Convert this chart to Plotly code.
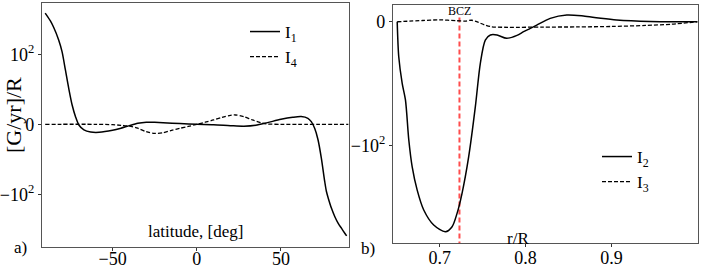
import numpy as np
import plotly.graph_objects as go

# ---------------- data ----------------
lat = [-90, -87, -85, -82, -80, -78, -76, -74, -72, -70, -67, -63, -58, -50, -45, -40,
       -35, -30, -25, -20, -10, 0, 10, 20, 28, 35, 42, 50, 57, 62, 66, 68, 70, 72, 74,
       76, 77, 78, 80, 82, 84, 86, 88, 89]
I1 = [450, 341, 268, 169, 110, 77.6, 51, 27.6, 10.9, -1, -8, -11, -11.4, -8.6, -5.6, -1.9,
      1.4, 2.9, 2.9, 2.4, 1, 0, -0.5, -1.9, -2.7, -1.4, 2.4, 7.1, 10, 11, 8.6, 3.8, -5.7,
      -22, -48.6, -82, -96, -113, -167, -227, -290, -348, -418, -456]

lat4 = [-90, -60, -50, -45, -40, -35, -30, -25, -20, -15, -10, -5, 0, 5, 10, 15, 20, 23,
        28, 33, 38, 42, 50, 60, 90]
I4 = [0, 0, -0.5, -1.5, -2.5, -5.6, -10.5, -12.9, -12, -8.6, -5.7, -3, 0, 3, 6.2, 10,
      12.9, 13.3, 11, 6.2, 2.4, 0.5, 0, 0, 0]

r2 = [0.6505, 0.6523, 0.6563, 0.6601, 0.6640, 0.6679, 0.6737, 0.6814, 0.6930, 0.7066,
      0.7144, 0.7202, 0.7260, 0.7337, 0.7415, 0.7473, 0.7531, 0.7590, 0.7667, 0.778,
      0.790, 0.7977, 0.805, 0.813, 0.8287, 0.848, 0.8674, 0.885, 0.906, 0.945, 1.0]
I2 = [0, -28.2, -49.7, -63.1, -95.4, -154, -249, -377, -514, -590, -532, -404, -267,
      -126, -68.5, -33.5, -14.8, -10.7, -10.7, -13.4, -11, -8, -5.5, -2.7, 2.7, 5.4, 4.6,
      3, 1.4, 0.2, 0]

r3 = [0.6505, 0.68, 0.70, 0.72, 0.73, 0.737, 0.745, 0.752, 0.76, 0.78, 0.82, 0.86, 0.90,
      0.94, 0.97, 1.0]
I3 = [0, 1, 1.5, 0.8, 0.5, 1.2, -0.5, -2.5, -4, -4.5, -4.3, -4.2, -3.8, -3, -2, 0]

bcz_r = 0.723
bcz_y = [-800, 4]

ytick_vals = [-100, 0, 100]
ytick_text = ["\u221210<sup>2</sup>", "0", "10<sup>2</sup>"]
xa_ticks = [-50, 0, 50]
xa_text = ["\u221250", "0", "50"]
xb_ticks = [0.7, 0.8, 0.9]
xb_text = ["0.7", "0.8", "0.9"]

# symlog transform (matplotlib style, linthresh=100, linscale=1)
LIN = 100.0
ADJ = 1.0 / (1.0 - 0.1)


def symlog(v):
    v = np.asarray(v, dtype=float)
    a = np.abs(v)
    out = np.where(a <= LIN, v * ADJ,
                   np.sign(v) * LIN * (ADJ + np.log10(np.maximum(a, 1e-12) / LIN)))
    return out


FONT = "Liberation Serif"
W, H = 706, 268

fig = go.Figure()
line_solid = dict(color="black", width=1.5, shape="spline", smoothing=0.8)
line_dash = dict(color="black", width=1.3, dash="4px,2px", shape="spline", smoothing=0.8)

fig.add_trace(go.Scatter(x=lat, y=symlog(I1), mode="lines", name="I<sub>1</sub>",
                         line=line_solid, xaxis="x", yaxis="y", legend="legend"))
fig.add_trace(go.Scatter(x=lat4, y=symlog(I4), mode="lines", name="I<sub>4</sub>",
                         line=line_dash, xaxis="x", yaxis="y", legend="legend"))
fig.add_trace(go.Scatter(x=[bcz_r, bcz_r], y=symlog(bcz_y), mode="lines", showlegend=False,
                         line=dict(color="#ff4d4d", width=2, dash="5px,3px"),
                         xaxis="x2", yaxis="y2"))
fig.add_trace(go.Scatter(x=r2, y=symlog(I2), mode="lines", name="I<sub>2</sub>",
                         line=line_solid, xaxis="x2", yaxis="y2", legend="legend2"))
fig.add_trace(go.Scatter(x=r3, y=symlog(I3), mode="lines", name="I<sub>3</sub>",
                         line=line_dash, xaxis="x2", yaxis="y2", legend="legend2"))

TF = dict(family=FONT, size=18, color="black")
axcommon = dict(showgrid=False, zeroline=False, showline=True, mirror=True,
                linecolor="#555", linewidth=1.2, ticks="outside", ticklen=3,
                tickcolor="#333", tickfont=TF, automargin=False)
# tick-label-only axes, lifted a few px so the labels sit as in the reference
labelaxis = dict(showgrid=False, zeroline=False, showline=False, ticks="",
                 tickfont=TF, automargin=False, anchor="free", side="bottom")

XA_DOM = [42 / W, 349 / W]
XB_DOM = [393 / W, 698 / W]
XA_RANGE = [-91.9, 90.4]
XB_RANGE = [0.6456, 1.0008]

fig.update_layout(
    width=W, height=H, autosize=False,
    margin=dict(l=0, r=0, t=0, b=0),
    paper_bgcolor="white", plot_bgcolor="white",
    xaxis=dict(domain=XA_DOM, range=XA_RANGE, tickvals=xa_ticks, showticklabels=False,
               anchor="y", **axcommon),
    yaxis=dict(domain=[1 - 247 / H, 1 - 3 / H], range=[-194.7, 192.5],
               tickvals=list(symlog(ytick_vals)), ticktext=ytick_text, anchor="x",
               **axcommon),
    xaxis2=dict(domain=XB_DOM, range=XB_RANGE, tickvals=xb_ticks, showticklabels=False,
                anchor="y2", **axcommon),
    yaxis2=dict(domain=[1 - 243 / H, 1 - 5 / H], range=[-198.3, 15.0],
                tickvals=list(symlog(ytick_vals[:2])), ticktext=ytick_text[:2],
                anchor="x2", **axcommon),
    xaxis3=dict(domain=XA_DOM, range=XA_RANGE, tickvals=xa_ticks, ticktext=xa_text,
                overlaying="x", position=(H - 246) / H, **labelaxis),
    xaxis4=dict(domain=XB_DOM, range=XB_RANGE, tickvals=xb_ticks, ticktext=xb_text,
                overlaying="x2", position=(H - 245) / H, **labelaxis),
    legend=dict(x=245 / W, y=1 - 14 / H, xanchor="left", yanchor="top",
                bgcolor="rgba(0,0,0,0)", font=dict(family=FONT, size=17, color="black"),
                tracegroupgap=0),
    legend2=dict(x=597 / W, y=1 - 139 / H, xanchor="left", yanchor="top",
                 bgcolor="rgba(0,0,0,0)", font=dict(family=FONT, size=17, color="black"),
                 tracegroupgap=0),
    showlegend=True,
)

# invisible traces so the label axes are drawn
fig.add_trace(go.Scatter(x=XA_RANGE, y=[0, 0], mode="lines", line=dict(width=0),
                         opacity=0, showlegend=False, hoverinfo="skip",
                         xaxis="x3", yaxis="y"))
fig.add_trace(go.Scatter(x=XB_RANGE, y=[0, 0], mode="lines", line=dict(width=0),
                         opacity=0, showlegend=False, hoverinfo="skip",
                         xaxis="x4", yaxis="y2"))


def label(x, y, text, size=17, angle=0):
    fig.add_annotation(x=x / W, y=1 - y / H, xref="paper", yref="paper", text=text,
                       showarrow=False, xanchor="center", yanchor="middle",
                       textangle=angle, font=dict(family=FONT, size=size, color="black"))


label(195, 232, "latitude, [deg]")
label(518, 238, "r/R")
label(20, 247, "a)")
label(368, 248, "b)")
label(459, 11, "BCZ", size=12)
label(13, 115, "[G/yr]/R", size=22, angle=-90)

fig.write_html("out.html", config={"displayModeBar": False},
               post_script="document.body.style.margin='0';"
                           "document.body.style.overflow='hidden';")
